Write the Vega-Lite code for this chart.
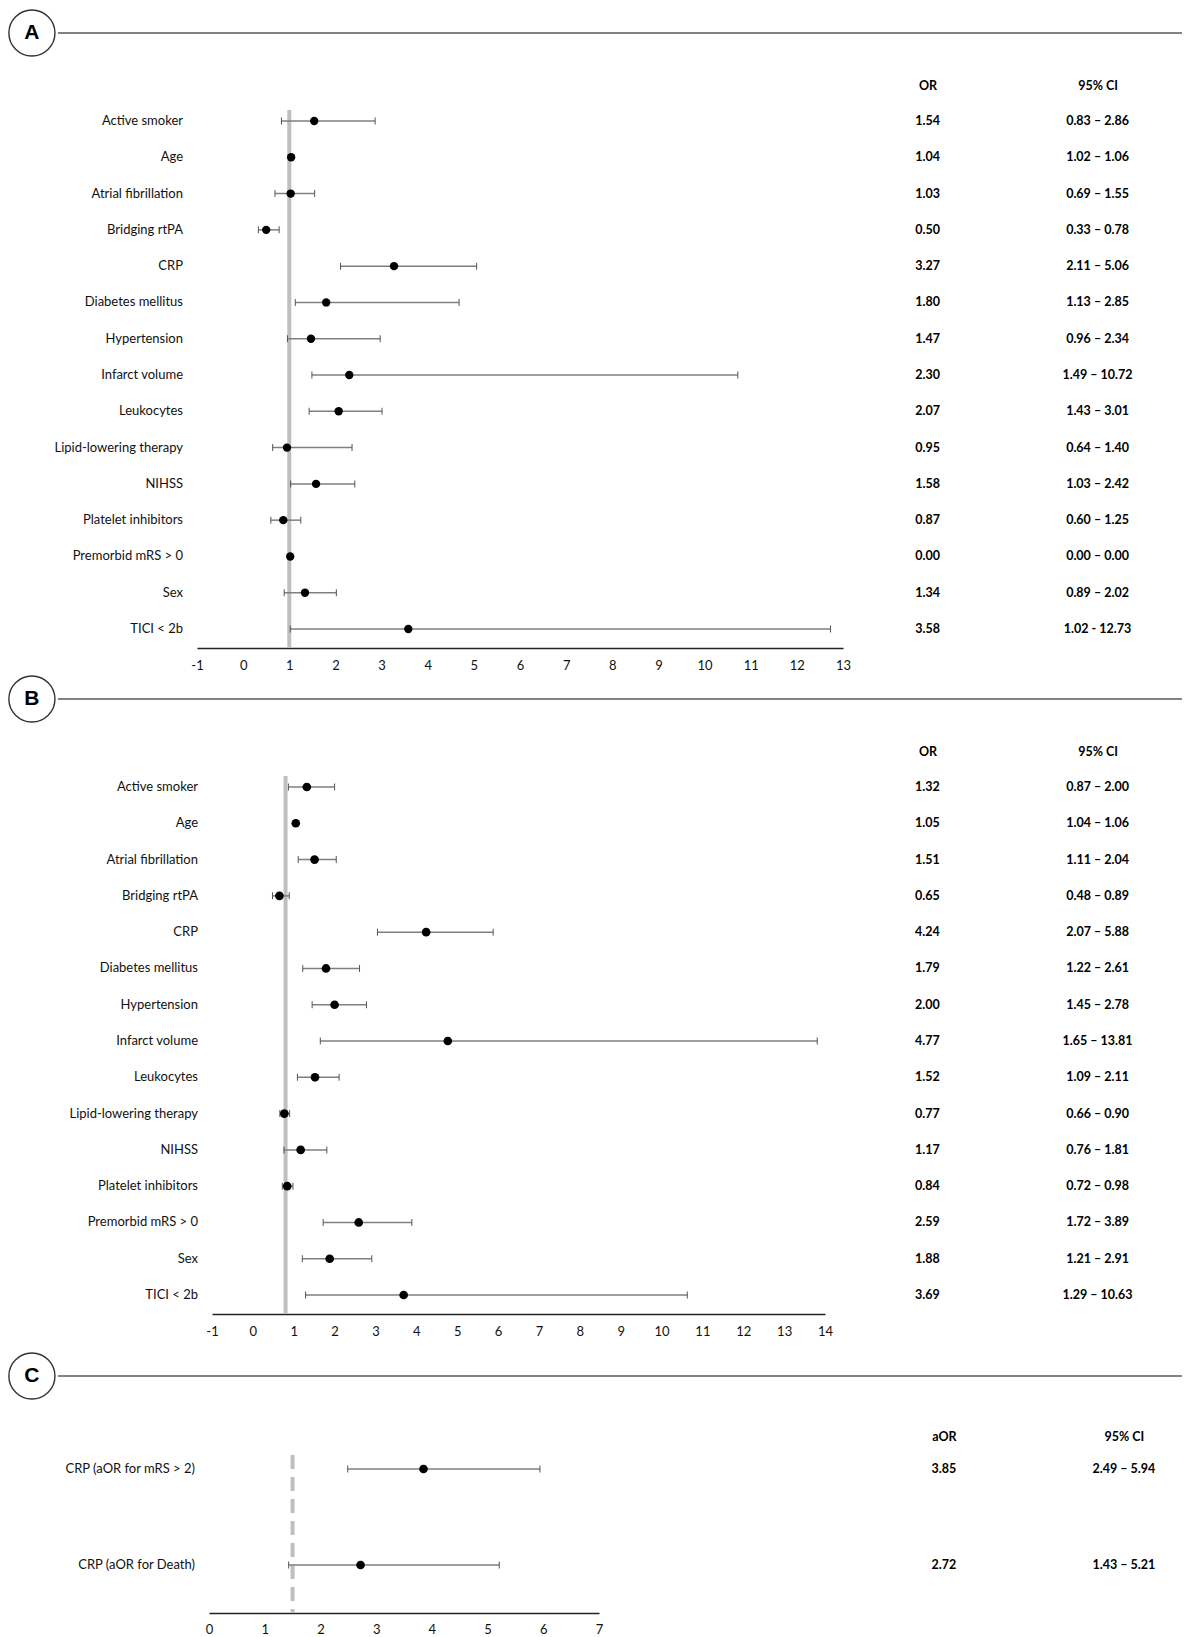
{
  "$schema": "https://vega.github.io/schema/vega-lite/v6.json",
  "padding": {"top": 6, "left": 0, "right": 0, "bottom": 0},
  "background": "white",
  "config": {"view": {"stroke": null}, "font": "Lato"},
  "datasets": {
    "A": [
      {"label": "Active smoker", "est": 1.54, "lo": 0.83, "hi": 2.86, "est_txt": "1.54", "ci_txt": "0.83 – 2.86"},
      {"label": "Age", "est": 1.04, "lo": 1.02, "hi": 1.06, "est_txt": "1.04", "ci_txt": "1.02 – 1.06"},
      {"label": "Atrial fibrillation", "est": 1.03, "lo": 0.69, "hi": 1.55, "est_txt": "1.03", "ci_txt": "0.69 – 1.55"},
      {"label": "Bridging rtPA", "est": 0.50, "lo": 0.33, "hi": 0.78, "est_txt": "0.50", "ci_txt": "0.33 – 0.78"},
      {"label": "CRP", "est": 3.27, "lo": 2.11, "hi": 5.06, "est_txt": "3.27", "ci_txt": "2.11 – 5.06"},
      {"label": "Diabetes mellitus", "est": 1.80, "lo": 1.13, "hi": 4.68, "est_txt": "1.80", "ci_txt": "1.13 – 2.85"},
      {"label": "Hypertension", "est": 1.47, "lo": 0.96, "hi": 2.97, "est_txt": "1.47", "ci_txt": "0.96 – 2.34"},
      {"label": "Infarct volume", "est": 2.30, "lo": 1.49, "hi": 10.72, "est_txt": "2.30", "ci_txt": "1.49 – 10.72"},
      {"label": "Leukocytes", "est": 2.07, "lo": 1.43, "hi": 3.01, "est_txt": "2.07", "ci_txt": "1.43 – 3.01"},
      {"label": "Lipid-lowering therapy", "est": 0.95, "lo": 0.64, "hi": 2.36, "est_txt": "0.95", "ci_txt": "0.64 – 1.40"},
      {"label": "NIHSS", "est": 1.58, "lo": 1.03, "hi": 2.42, "est_txt": "1.58", "ci_txt": "1.03 – 2.42"},
      {"label": "Platelet inhibitors", "est": 0.87, "lo": 0.60, "hi": 1.25, "est_txt": "0.87", "ci_txt": "0.60 – 1.25"},
      {"label": "Premorbid mRS > 0", "est": 1.02, "lo": null, "hi": null, "est_txt": "0.00", "ci_txt": "0.00 – 0.00"},
      {"label": "Sex", "est": 1.34, "lo": 0.89, "hi": 2.02, "est_txt": "1.34", "ci_txt": "0.89 – 2.02"},
      {"label": "TICI < 2b", "est": 3.58, "lo": 1.02, "hi": 12.73, "est_txt": "3.58", "ci_txt": "1.02 - 12.73"}
    ],
    "B": [
      {"label": "Active smoker", "est": 1.32, "lo": 0.87, "hi": 2.00, "est_txt": "1.32", "ci_txt": "0.87 – 2.00"},
      {"label": "Age", "est": 1.05, "lo": 1.04, "hi": 1.06, "est_txt": "1.05", "ci_txt": "1.04 – 1.06"},
      {"label": "Atrial fibrillation", "est": 1.51, "lo": 1.11, "hi": 2.04, "est_txt": "1.51", "ci_txt": "1.11 – 2.04"},
      {"label": "Bridging rtPA", "est": 0.65, "lo": 0.48, "hi": 0.89, "est_txt": "0.65", "ci_txt": "0.48 – 0.89"},
      {"label": "CRP", "est": 4.24, "lo": 3.05, "hi": 5.88, "est_txt": "4.24", "ci_txt": "2.07 – 5.88"},
      {"label": "Diabetes mellitus", "est": 1.79, "lo": 1.22, "hi": 2.61, "est_txt": "1.79", "ci_txt": "1.22 – 2.61"},
      {"label": "Hypertension", "est": 2.00, "lo": 1.45, "hi": 2.78, "est_txt": "2.00", "ci_txt": "1.45 – 2.78"},
      {"label": "Infarct volume", "est": 4.77, "lo": 1.65, "hi": 13.81, "est_txt": "4.77", "ci_txt": "1.65 – 13.81"},
      {"label": "Leukocytes", "est": 1.52, "lo": 1.09, "hi": 2.11, "est_txt": "1.52", "ci_txt": "1.09 – 2.11"},
      {"label": "Lipid-lowering therapy", "est": 0.77, "lo": 0.66, "hi": 0.90, "est_txt": "0.77", "ci_txt": "0.66 – 0.90"},
      {"label": "NIHSS", "est": 1.17, "lo": 0.76, "hi": 1.81, "est_txt": "1.17", "ci_txt": "0.76 – 1.81"},
      {"label": "Platelet inhibitors", "est": 0.84, "lo": 0.72, "hi": 0.98, "est_txt": "0.84", "ci_txt": "0.72 – 0.98"},
      {"label": "Premorbid mRS > 0", "est": 2.59, "lo": 1.72, "hi": 3.89, "est_txt": "2.59", "ci_txt": "1.72 – 3.89"},
      {"label": "Sex", "est": 1.88, "lo": 1.21, "hi": 2.91, "est_txt": "1.88", "ci_txt": "1.21 – 2.91"},
      {"label": "TICI < 2b", "est": 3.69, "lo": 1.29, "hi": 10.63, "est_txt": "3.69", "ci_txt": "1.29 – 10.63"}
    ],
    "C": [
      {"label": "CRP (aOR for mRS > 2)", "est": 3.85, "lo": 2.49, "hi": 5.94, "est_txt": "3.85", "ci_txt": "2.49 – 5.94"},
      {"label": "CRP (aOR for Death)", "est": 2.72, "lo": 1.43, "hi": 5.21, "est_txt": "2.72", "ci_txt": "1.43 – 5.21"}
    ]
  },
  "vconcat": [
    {
      "vconcat": [
        {
          "vconcat": [
            {
              "width": 1182, "height": 54,
              "data": {"values": [{"panel": "A"}]},
              "layer": [
                {"mark": {"type": "rule", "stroke": "#595959", "strokeWidth": 1.6},
                 "encoding": {"x": {"datum": 0.049, "type": "quantitative", "scale": {"domain": [0, 1], "nice": false, "zero": false}, "axis": null},
                              "x2": {"datum": 1},
                              "y": {"datum": 0.5, "type": "quantitative", "scale": {"domain": [0, 1]}, "axis": null}}},
                {"mark": {"type": "point", "shape": "circle", "size": 2124, "filled": true, "fill": "white", "stroke": "#333333", "strokeWidth": 1.4, "opacity": 1},
                 "encoding": {"x": {"datum": 0.027, "type": "quantitative"}, "y": {"datum": 0.5, "type": "quantitative"}}},
                {"mark": {"type": "text", "font": "Liberation Sans", "fontSize": 21, "fontWeight": "bold", "color": "black", "baseline": "middle", "align": "center"},
                 "encoding": {"x": {"datum": 0.027, "type": "quantitative"}, "y": {"datum": 0.5, "type": "quantitative"}, "text": {"field": "panel"}}}
              ]
            },
            {
              "hconcat": [
                {
                  "width": 183, "height": 538,
                  "data": {"name": "A"},
                  "mark": {"type": "text", "align": "right", "baseline": "middle", "fontSize": 13, "color": "#111111", "font": "Lato"},
                  "encoding": {
                    "x": {"datum": 1, "type": "quantitative", "scale": {"domain": [0, 1]}, "axis": null},
                    "y": {"field": "label", "type": "nominal", "sort": null,
                      "scale": {"type": "point", "padding": 0.413, "align": 0.367, "domain": ["Active smoker", "Age", "Atrial fibrillation", "Bridging rtPA", "CRP", "Diabetes mellitus", "Hypertension", "Infarct volume", "Leukocytes", "Lipid-lowering therapy", "NIHSS", "Platelet inhibitors", "Premorbid mRS > 0", "Sex", "TICI < 2b"]}, "axis": null},
                    "text": {"field": "label"}
                  }
                },
                {
                  "width": 646, "height": 538,
                  "data": {"name": "A"},
                  "layer": [
                    {"data": {"values": [{"ref": 1}]},
                     "mark": {"type": "rule", "stroke": "#bfbfbf", "strokeWidth": 4},
                     "encoding": {"x": {"field": "ref", "type": "quantitative", "scale": {"domain": [-1, 13], "nice": false, "zero": false},
                       "axis": {"values": [-1,0,1,2,3,4,5,6,7,8,9,10,11,12,13], "labelExpr": "'' + datum.value", "title": null, "grid": false, "ticks": false, "tickSize": 0, "domain": true, "domainColor": "#222222", "domainWidth": 1.5, "labelPadding": 11, "labelFlush": false, "labelFontSize": 13, "labelColor": "#111111", "labelFont": "Lato"}}}},
                    {"mark": {"type": "rule", "stroke": "#7f7f7f", "strokeWidth": 1.5},
                     "encoding": {"x": {"field": "lo", "type": "quantitative"}, "x2": {"field": "hi"},
                       "y": {"field": "label", "type": "nominal", "sort": null,
                         "scale": {"type": "point", "padding": 0.413, "align": 0.367, "domain": ["Active smoker", "Age", "Atrial fibrillation", "Bridging rtPA", "CRP", "Diabetes mellitus", "Hypertension", "Infarct volume", "Leukocytes", "Lipid-lowering therapy", "NIHSS", "Platelet inhibitors", "Premorbid mRS > 0", "Sex", "TICI < 2b"]},
                         "axis": null}}},
                    {"mark": {"type": "tick", "orient": "vertical", "size": 7, "thickness": 1, "color": "#555555", "opacity": 1},
                     "encoding": {"x": {"field": "lo", "type": "quantitative"}, "y": {"field": "label", "type": "nominal", "sort": null}}},
                    {"mark": {"type": "tick", "orient": "vertical", "size": 7, "thickness": 1, "color": "#555555", "opacity": 1},
                     "encoding": {"x": {"field": "hi", "type": "quantitative"}, "y": {"field": "label", "type": "nominal", "sort": null}}},
                    {"mark": {"type": "point", "shape": "circle", "filled": true, "color": "black", "size": 70, "opacity": 1},
                     "encoding": {"x": {"field": "est", "type": "quantitative"}, "y": {"field": "label", "type": "nominal", "sort": null}}}
                  ]
                },
                {
                  "width": 283, "height": 538,
                  "data": {"name": "A"},
                  "layer": [
                    {"mark": {"type": "text", "fontWeight": "bold", "fontSize": 12.5, "color": "black", "font": "Lato"},
                     "encoding": {
                       "x": {"datum": "OR", "type": "nominal", "scale": {"type": "point", "domain": ["OR", "95% CI"], "padding": 0.3324, "align": 0.624},
                         "axis": {"orient": "top", "title": null, "ticks": false, "tickSize": 0, "domain": false, "labelPadding": 18, "labelFontWeight": "bold", "labelFontSize": 12.5, "labelColor": "black", "labelAngle": 0, "labelFont": "Lato"}},
                       "y": {"field": "label", "type": "nominal", "sort": null,
                         "scale": {"type": "point", "padding": 0.413, "align": 0.367, "domain": ["Active smoker", "Age", "Atrial fibrillation", "Bridging rtPA", "CRP", "Diabetes mellitus", "Hypertension", "Infarct volume", "Leukocytes", "Lipid-lowering therapy", "NIHSS", "Platelet inhibitors", "Premorbid mRS > 0", "Sex", "TICI < 2b"]}, "axis": null},
                       "text": {"field": "est_txt"}}},
                    {"mark": {"type": "text", "fontWeight": "bold", "fontSize": 12.5, "color": "black", "font": "Lato"},
                     "encoding": {
                       "x": {"datum": "95% CI", "type": "nominal"},
                       "y": {"field": "label", "type": "nominal", "sort": null},
                       "text": {"field": "ci_txt"}}}
                  ]
                }
              ],
              "spacing": 14,
              "bounds": "flush"
            }
          ],
          "spacing": 19
        },
        {
          "vconcat": [
            {
              "width": 1182, "height": 54,
              "data": {"values": [{"panel": "B"}]},
              "layer": [
                {"mark": {"type": "rule", "stroke": "#595959", "strokeWidth": 1.6},
                 "encoding": {"x": {"datum": 0.049, "type": "quantitative", "scale": {"domain": [0, 1], "nice": false, "zero": false}, "axis": null},
                              "x2": {"datum": 1},
                              "y": {"datum": 0.5, "type": "quantitative", "scale": {"domain": [0, 1]}, "axis": null}}},
                {"mark": {"type": "point", "shape": "circle", "size": 2124, "filled": true, "fill": "white", "stroke": "#333333", "strokeWidth": 1.4, "opacity": 1},
                 "encoding": {"x": {"datum": 0.027, "type": "quantitative"}, "y": {"datum": 0.5, "type": "quantitative"}}},
                {"mark": {"type": "text", "font": "Liberation Sans", "fontSize": 21, "fontWeight": "bold", "color": "black", "baseline": "middle", "align": "center"},
                 "encoding": {"x": {"datum": 0.027, "type": "quantitative"}, "y": {"datum": 0.5, "type": "quantitative"}, "text": {"field": "panel"}}}
              ]
            },
            {
              "hconcat": [
                {
                  "width": 198, "height": 538,
                  "data": {"name": "B"},
                  "mark": {"type": "text", "align": "right", "baseline": "middle", "fontSize": 13, "color": "#111111", "font": "Lato"},
                  "encoding": {
                    "x": {"datum": 1, "type": "quantitative", "scale": {"domain": [0, 1]}, "axis": null},
                    "y": {"field": "label", "type": "nominal", "sort": null,
                      "scale": {"type": "point", "padding": 0.413, "align": 0.367, "domain": ["Active smoker", "Age", "Atrial fibrillation", "Bridging rtPA", "CRP", "Diabetes mellitus", "Hypertension", "Infarct volume", "Leukocytes", "Lipid-lowering therapy", "NIHSS", "Platelet inhibitors", "Premorbid mRS > 0", "Sex", "TICI < 2b"]}, "axis": null},
                    "text": {"field": "label"}
                  }
                },
                {
                  "width": 613, "height": 538,
                  "data": {"name": "B"},
                  "layer": [
                    {"data": {"values": [{"ref": 0.8}]},
                     "mark": {"type": "rule", "stroke": "#bfbfbf", "strokeWidth": 4},
                     "encoding": {"x": {"field": "ref", "type": "quantitative", "scale": {"domain": [-1, 14], "nice": false, "zero": false},
                       "axis": {"values": [-1,0,1,2,3,4,5,6,7,8,9,10,11,12,13,14], "labelExpr": "'' + datum.value", "title": null, "grid": false, "ticks": false, "tickSize": 0, "domain": true, "domainColor": "#222222", "domainWidth": 1.5, "labelPadding": 11, "labelFlush": false, "labelFontSize": 13, "labelColor": "#111111", "labelFont": "Lato"}}}},
                    {"mark": {"type": "rule", "stroke": "#7f7f7f", "strokeWidth": 1.5},
                     "encoding": {"x": {"field": "lo", "type": "quantitative"}, "x2": {"field": "hi"},
                       "y": {"field": "label", "type": "nominal", "sort": null,
                         "scale": {"type": "point", "padding": 0.413, "align": 0.367, "domain": ["Active smoker", "Age", "Atrial fibrillation", "Bridging rtPA", "CRP", "Diabetes mellitus", "Hypertension", "Infarct volume", "Leukocytes", "Lipid-lowering therapy", "NIHSS", "Platelet inhibitors", "Premorbid mRS > 0", "Sex", "TICI < 2b"]},
                         "axis": null}}},
                    {"mark": {"type": "tick", "orient": "vertical", "size": 7, "thickness": 1, "color": "#555555", "opacity": 1},
                     "encoding": {"x": {"field": "lo", "type": "quantitative"}, "y": {"field": "label", "type": "nominal", "sort": null}}},
                    {"mark": {"type": "tick", "orient": "vertical", "size": 7, "thickness": 1, "color": "#555555", "opacity": 1},
                     "encoding": {"x": {"field": "hi", "type": "quantitative"}, "y": {"field": "label", "type": "nominal", "sort": null}}},
                    {"mark": {"type": "point", "shape": "circle", "filled": true, "color": "black", "size": 75, "opacity": 1},
                     "encoding": {"x": {"field": "est", "type": "quantitative"}, "y": {"field": "label", "type": "nominal", "sort": null}}}
                  ]
                },
                {
                  "width": 300, "height": 538,
                  "data": {"name": "B"},
                  "layer": [
                    {"mark": {"type": "text", "fontWeight": "bold", "fontSize": 12.5, "color": "black", "font": "Lato"},
                     "encoding": {
                       "x": {"datum": "OR", "type": "nominal", "scale": {"type": "point", "domain": ["OR", "95% CI"], "padding": 0.382, "align": 0.681},
                         "axis": {"orient": "top", "title": null, "ticks": false, "tickSize": 0, "domain": false, "labelPadding": 18, "labelFontWeight": "bold", "labelFontSize": 12.5, "labelColor": "black", "labelAngle": 0, "labelFont": "Lato"}},
                       "y": {"field": "label", "type": "nominal", "sort": null,
                         "scale": {"type": "point", "padding": 0.413, "align": 0.367, "domain": ["Active smoker", "Age", "Atrial fibrillation", "Bridging rtPA", "CRP", "Diabetes mellitus", "Hypertension", "Infarct volume", "Leukocytes", "Lipid-lowering therapy", "NIHSS", "Platelet inhibitors", "Premorbid mRS > 0", "Sex", "TICI < 2b"]}, "axis": null},
                       "text": {"field": "est_txt"}}},
                    {"mark": {"type": "text", "fontWeight": "bold", "fontSize": 12.5, "color": "black", "font": "Lato"},
                     "encoding": {
                       "x": {"datum": "95% CI", "type": "nominal"},
                       "y": {"field": "label", "type": "nominal", "sort": null},
                       "text": {"field": "ci_txt"}}}
                  ]
                }
              ],
              "spacing": 14,
              "bounds": "flush"
            }
          ],
          "spacing": 19
        }
      ],
      "spacing": 0
    },
    {
      "vconcat": [
        {
          "width": 1182, "height": 54,
          "data": {"values": [{"panel": "C"}]},
          "layer": [
            {"mark": {"type": "rule", "stroke": "#595959", "strokeWidth": 1.6},
             "encoding": {"x": {"datum": 0.049, "type": "quantitative", "scale": {"domain": [0, 1], "nice": false, "zero": false}, "axis": null},
                          "x2": {"datum": 1},
                          "y": {"datum": 0.5, "type": "quantitative", "scale": {"domain": [0, 1]}, "axis": null}}},
            {"mark": {"type": "point", "shape": "circle", "size": 2124, "filled": true, "fill": "white", "stroke": "#333333", "strokeWidth": 1.4, "opacity": 1},
             "encoding": {"x": {"datum": 0.027, "type": "quantitative"}, "y": {"datum": 0.5, "type": "quantitative"}}},
            {"mark": {"type": "text", "font": "Liberation Sans", "fontSize": 21, "fontWeight": "bold", "color": "black", "baseline": "middle", "align": "center"},
             "encoding": {"x": {"datum": 0.027, "type": "quantitative"}, "y": {"datum": 0.5, "type": "quantitative"}, "text": {"field": "panel"}}}
          ]
        },
        {
          "hconcat": [
            {
              "width": 195, "height": 158,
              "data": {"name": "C"},
              "mark": {"type": "text", "align": "right", "baseline": "middle", "fontSize": 13, "color": "#111111", "font": "Lato"},
              "encoding": {
                "x": {"datum": 1, "type": "quantitative", "scale": {"domain": [0, 1]}, "axis": null},
                "y": {"field": "label", "type": "nominal", "sort": null, "scale": {"type": "point", "padding": 0.323, "align": 0.226, "domain": ["CRP (aOR for mRS > 2)", "CRP (aOR for Death)"]}, "axis": null},
                "text": {"field": "label"}
              }
            },
            {
              "width": 390, "height": 158,
              "data": {"name": "C"},
              "layer": [
                {"data": {"values": [{"ref": 1.5}]},
                 "mark": {"type": "rule", "stroke": "#bfbfbf", "strokeWidth": 4, "strokeDash": [14, 8]},
                 "encoding": {"x": {"field": "ref", "type": "quantitative", "scale": {"domain": [0, 7], "nice": false, "zero": false},
                   "axis": {"values": [0,1,2,3,4,5,6,7], "labelExpr": "'' + datum.value", "title": null, "grid": false, "ticks": false, "tickSize": 0, "domain": true, "domainColor": "#222222", "domainWidth": 1.5, "labelPadding": 10, "labelFlush": false, "labelFontSize": 13, "labelColor": "#111111", "labelFont": "Lato"}}}},
                {"mark": {"type": "rule", "stroke": "#7f7f7f", "strokeWidth": 1.5},
                 "encoding": {"x": {"field": "lo", "type": "quantitative"}, "x2": {"field": "hi"},
                   "y": {"field": "label", "type": "nominal", "sort": null, "scale": {"type": "point", "padding": 0.323, "align": 0.226, "domain": ["CRP (aOR for mRS > 2)", "CRP (aOR for Death)"]}, "axis": null}}},
                {"mark": {"type": "tick", "orient": "vertical", "size": 7, "thickness": 1, "color": "#555555", "opacity": 1},
                 "encoding": {"x": {"field": "lo", "type": "quantitative"}, "y": {"field": "label", "type": "nominal", "sort": null}}},
                {"mark": {"type": "tick", "orient": "vertical", "size": 7, "thickness": 1, "color": "#555555", "opacity": 1},
                 "encoding": {"x": {"field": "hi", "type": "quantitative"}, "y": {"field": "label", "type": "nominal", "sort": null}}},
                {"mark": {"type": "point", "shape": "circle", "filled": true, "color": "black", "size": 75, "opacity": 1},
                 "encoding": {"x": {"field": "est", "type": "quantitative"}, "y": {"field": "label", "type": "nominal", "sort": null}}}
              ]
            },
            {
              "width": 540, "height": 158,
              "data": {"name": "C"},
              "layer": [
                {"mark": {"type": "text", "fontWeight": "bold", "fontSize": 12.5, "color": "black", "font": "Lato"},
                 "encoding": {
                   "x": {"datum": "aOR", "type": "nominal", "scale": {"type": "point", "domain": ["aOR", "95% CI"], "padding": 1.088, "align": 0.919},
                     "axis": {"orient": "top", "title": null, "ticks": false, "tickSize": 0, "domain": false, "labelPadding": 12, "labelFontWeight": "bold", "labelFontSize": 12.5, "labelColor": "black", "labelAngle": 0, "labelFont": "Lato"}},
                   "y": {"field": "label", "type": "nominal", "sort": null, "scale": {"type": "point", "padding": 0.323, "align": 0.226, "domain": ["CRP (aOR for mRS > 2)", "CRP (aOR for Death)"]}, "axis": null},
                   "text": {"field": "est_txt"}}},
                {"mark": {"type": "text", "fontWeight": "bold", "fontSize": 12.5, "color": "black", "font": "Lato"},
                 "encoding": {
                   "x": {"datum": "95% CI", "type": "nominal"},
                   "y": {"field": "label", "type": "nominal", "sort": null},
                   "text": {"field": "ci_txt"}}}
              ]
            }
          ],
          "spacing": 14,
          "bounds": "flush"
        }
      ],
      "spacing": 27
    }
  ],
  "spacing": 11
}
